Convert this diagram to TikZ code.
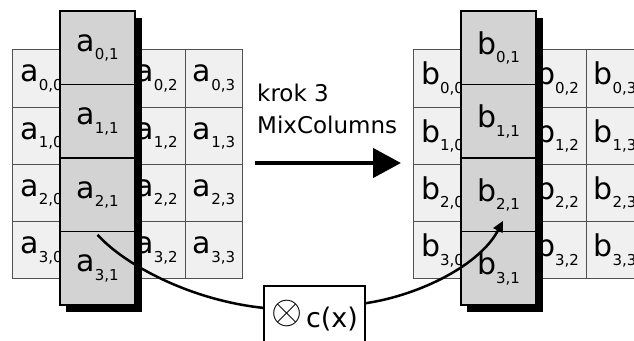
\documentclass[tikz,border=0pt]{standalone}
\usepackage{fontspec}
\usepackage{graphicx}
\setmainfont{DejaVu Sans}
\usetikzlibrary{arrows.meta}
\definecolor{cellbg}{HTML}{F0F0F0}
\definecolor{colbg}{HTML}{D3D3D3}
\definecolor{gridln}{HTML}{505050}
\newcommand\cellt[2]{#1\raisebox{-8.5pt}{\fontsize{15}{15}\selectfont #2}}
\begin{document}
\begin{tikzpicture}[x=1pt,y=-1pt,
  gridcell/.style={draw=gridln, line width=1pt, fill=cellbg, minimum width=57.5pt, minimum height=57.25pt, inner sep=0pt, font=\fontsize{30}{30}\selectfont},
  colcell/.style={draw=black, line width=1.6pt, fill=colbg, minimum width=75pt, minimum height=73.5pt, inner sep=0pt, font=\fontsize{30}{30}\selectfont},
  conn/.style={line width=2.5pt}]
\useasboundingbox (0,0) rectangle (634,340);
\clip (0,0) rectangle (634,340);
\foreach \m/\dx in {a/0,b/401}{
  \foreach \i in {0,...,3}{
    \foreach \j in {0,2,3}{
      \pgfmathsetmacro\cx{41.5+57.5*\j+\dx}
      \pgfmathsetmacro\cy{78.5+57.25*\i}
      \node[gridcell] (\m-\i-\j) at (\cx,\cy) {\cellt{\m}{\i,\j}};
    }
  }
  \fill[black] (66+\dx,18) rectangle (142+\dx,312);
  \foreach \i in {0,...,3}{
    \pgfmathsetmacro\cy{47.75+73.5*\i}
    \node[colcell] (\m-\i-1) at (97.5+\dx,\cy) {\cellt{\m}{\i,1}};
  }
}
\coordinate (arrS) at (255,163);
\coordinate (arrE) at (401,163);
\draw[line width=4.5pt, -{Triangle[length=28pt,width=29pt]}] (arrS) -- (arrE);
\node[anchor=north west, align=left, inner sep=0pt, font=\fontsize{23}{32}\selectfont] (lbl) at (257,84) {krok 3\\MixColumns};
\node[draw, line width=2pt, fill=white, minimum width=101pt, minimum height=60pt, anchor=north west, inner sep=0pt, font=\fontsize{27}{27}\selectfont] (cbox) at (263,285) {\raisebox{4pt}{\normalsize\scalebox{4}{$\otimes$}}\hspace{4pt}c(x)};
\draw[conn] ([yshift=-2.5pt]a-2-1.south) .. controls (125,265) and (190,300) .. (cbox.171);
\draw[conn, -{Triangle[length=11pt,width=10pt]}] (cbox.14) .. controls (420,295) and (480,265) .. ([shift={(4.5,-11.5)}]b-2-1.south);
\end{tikzpicture}
\end{document}
